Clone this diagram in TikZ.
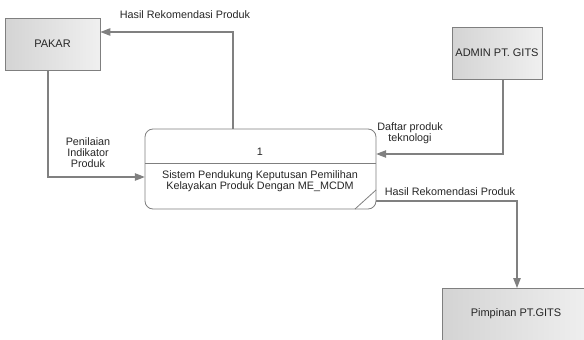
\documentclass[tikz,border=0pt]{standalone}
\usepackage{fontspec}
\setmainfont{Liberation Sans}
\usetikzlibrary{arrows.meta}
\definecolor{edgegray}{HTML}{7F7F7F}
\definecolor{linegray}{HTML}{808080}
\definecolor{txt}{HTML}{262626}
\tikzset{
  entity/.style={draw=edgegray, line width=0.8pt, left color=black!17, right color=black!6, minimum width=#1, minimum height=52pt, inner sep=0pt, font=\fontsize{11}{13}\selectfont, text=txt},
  flow/.style={draw=linegray, line width=1.1pt, -{Triangle[length=10pt,width=7.5pt]}},
  lbl/.style={font=\fontsize{10.8}{12}\selectfont, text=txt, align=center, inner sep=0pt},
}
\begin{document}
\begin{tikzpicture}[x=1pt,y=-1pt]
\useasboundingbox (0,0) rectangle (584,340);
\clip (0,0) rectangle (584,340);
% entities
\node[entity=95pt] (pakar) at (52.5,44) {PAKAR};
\node[entity=90pt] (admin) at (497,53) {ADMIN PT. GITS};
\node[entity=150pt, anchor=north west, minimum height=60pt] (pimp) at (442,288) {};
\node[font=\fontsize{11}{13}\selectfont, text=txt] (pimptxt) at (516,314) {Pimpinan PT.GITS};
% process
\draw[edgegray, line width=0.8pt, fill=white, rounded corners=8pt] (145,129) rectangle (376,209);
\node[draw=none, minimum width=231pt, minimum height=80pt, inner sep=0pt] (proc) at (260.5,169) {};
\draw[edgegray, line width=0.8pt] (145,163) -- (376,163);
\draw[edgegray, line width=0.8pt] (355,209) -- (376,190);
\node[lbl] (pnum) at (260,152) {1};
\node[lbl] (pname) at (260,181) {Sistem Pendukung Keputusan Pemilihan\\[-1pt]Kelayakan Produk Dengan ME\_MCDM};
% flows
\coordinate (c1) at (233,32);
\draw[flow] (proc.north -| c1) -- (c1) -- (pakar.east |- c1);
\node[lbl] (l1) at (185,15) {Hasil Rekomendasi Produk};
\coordinate (c2) at (48,177);
\draw[flow] (pakar.south -| c2) -- (c2) -- (proc.west |- c2);
\node[lbl] (l2) at (88,153) {Penilaian\\[-1pt]Indikator\\[-1pt]Produk};
\coordinate (c3) at (503,154);
\draw[flow] (admin.south -| c3) -- (c3) -- (proc.east |- c3);
\node[lbl] (l3) at (410,133) {Daftar produk\\[-1pt]teknologi};
\coordinate (c4) at (517,201);
\draw[flow] (proc.east |- c4) -- (c4) -- (pimp.north -| c4);
\node[lbl] (l4) at (450,192) {Hasil Rekomendasi Produk};
\end{tikzpicture}
\end{document}
